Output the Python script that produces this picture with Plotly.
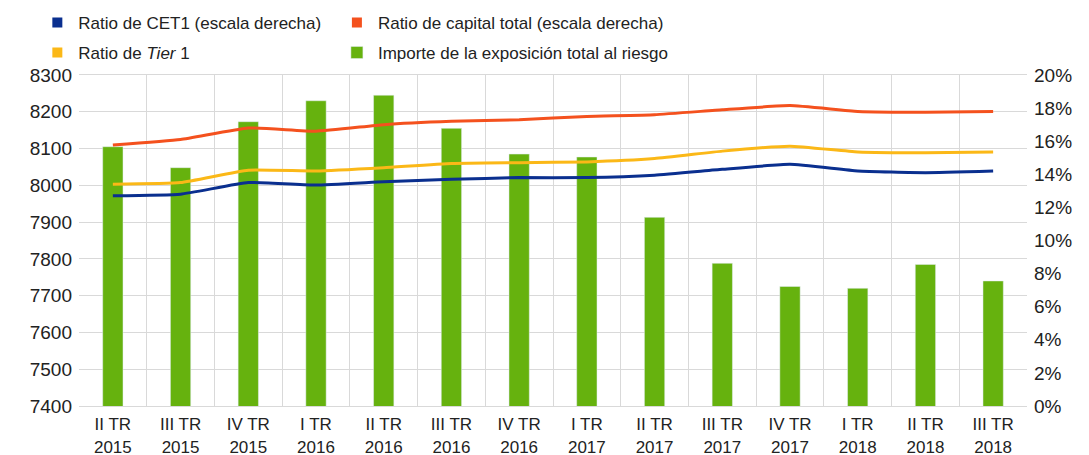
import plotly.graph_objects as go

categories = ["II TR<br>2015", "III TR<br>2015", "IV TR<br>2015", "I TR<br>2016", "II TR<br>2016",
              "III TR<br>2016", "IV TR<br>2016", "I TR<br>2017", "II TR<br>2017", "III TR<br>2017",
              "IV TR<br>2017", "I TR<br>2018", "II TR<br>2018", "III TR<br>2018"]
exposure = [8105, 8048, 8173, 8230, 8245, 8155, 8085, 8077, 7913, 7788, 7725, 7720, 7785, 7740]
cet1 = [12.7, 12.8, 13.5, 13.35, 13.55, 13.7, 13.8, 13.8, 13.95, 14.3, 14.6, 14.2, 14.1, 14.2]
tier1 = [13.4, 13.5, 14.25, 14.2, 14.4, 14.65, 14.7, 14.75, 14.95, 15.4, 15.7, 15.35, 15.3, 15.35]
total = [15.77, 16.1, 16.8, 16.6, 17.0, 17.2, 17.3, 17.5, 17.6, 17.9, 18.15, 17.8, 17.75, 17.8]

BLUE = "#0a2f8f"
ORANGE = "#f4511e"
YELLOW = "#fbb817"
GREEN = "#66b20e"
FONT = "Liberation Sans, Arial, sans-serif"

fig = go.Figure()
fig.add_trace(go.Bar(x=categories, y=exposure, marker_color=GREEN, width=0.3,
                     name="Importe de la exposición total al riesgo",
                     legend="legend2", legendgroup="d", legendrank=2, showlegend=True,
                     hoverinfo="skip"))
for vals, col in [(total, ORANGE), (tier1, YELLOW), (cet1, BLUE)]:
    fig.add_trace(go.Scatter(x=categories, y=vals, yaxis="y2", mode="lines",
                             line=dict(color=col, width=3, shape="spline", smoothing=0.4),
                             showlegend=False, hoverinfo="skip"))
# legend entries
fig.add_trace(go.Scatter(x=[None], y=[None], yaxis="y2", mode="markers",
                         marker=dict(symbol="square", size=10, color=BLUE),
                         name="Ratio de CET1 (escala derecha)", legend="legend",
                         legendgroup="a", legendrank=1))
fig.add_trace(go.Scatter(x=[None], y=[None], yaxis="y2", mode="markers",
                         marker=dict(symbol="square", size=10, color=YELLOW),
                         name="Ratio de <i>Tier</i> 1", legend="legend",
                         legendgroup="b", legendrank=2))
fig.add_trace(go.Scatter(x=[None], y=[None], yaxis="y2", mode="markers",
                         marker=dict(symbol="square", size=10, color=ORANGE),
                         name="Ratio de capital total (escala derecha)", legend="legend2",
                         legendgroup="c", legendrank=1))

grid = "#d9d9d9"
fig.update_layout(
    width=1081, height=447,
    margin=dict(l=71, r=62, t=67, b=49, autoexpand=False),
    paper_bgcolor="white", plot_bgcolor="white",
    font=dict(family=FONT, size=17, color="#222222"),
    xaxis=dict(type="category", tickson="boundaries", showgrid=True, gridcolor=grid, gridwidth=1,
               ticks="", showline=True, linecolor=grid, mirror=True, tickfont=dict(size=17),
               range=[-0.5, 13.5], ticklabelstandoff=3),
    yaxis=dict(range=[7400, 8300], dtick=100, showgrid=True, gridcolor=grid, ticks="",
               tickfont=dict(size=19), zeroline=False, ticklabelstandoff=6),
    yaxis2=dict(range=[0, 20], dtick=2, overlaying="y", side="right", showgrid=False,
                ticksuffix="%", tickfont=dict(size=19), zeroline=False, ticklabelstandoff=6),
    legend=dict(x=-0.045, y=1.212, xanchor="left", yanchor="top", orientation="v",
                font=dict(size=17), traceorder="grouped", tracegroupgap=5,
                bgcolor="rgba(0,0,0,0)", itemwidth=32),
    legend2=dict(x=0.271, y=1.212, xanchor="left", yanchor="top", orientation="v",
                 font=dict(size=17), traceorder="grouped", tracegroupgap=5,
                 bgcolor="rgba(0,0,0,0)", itemwidth=32),
)
fig.write_html("out.html")
